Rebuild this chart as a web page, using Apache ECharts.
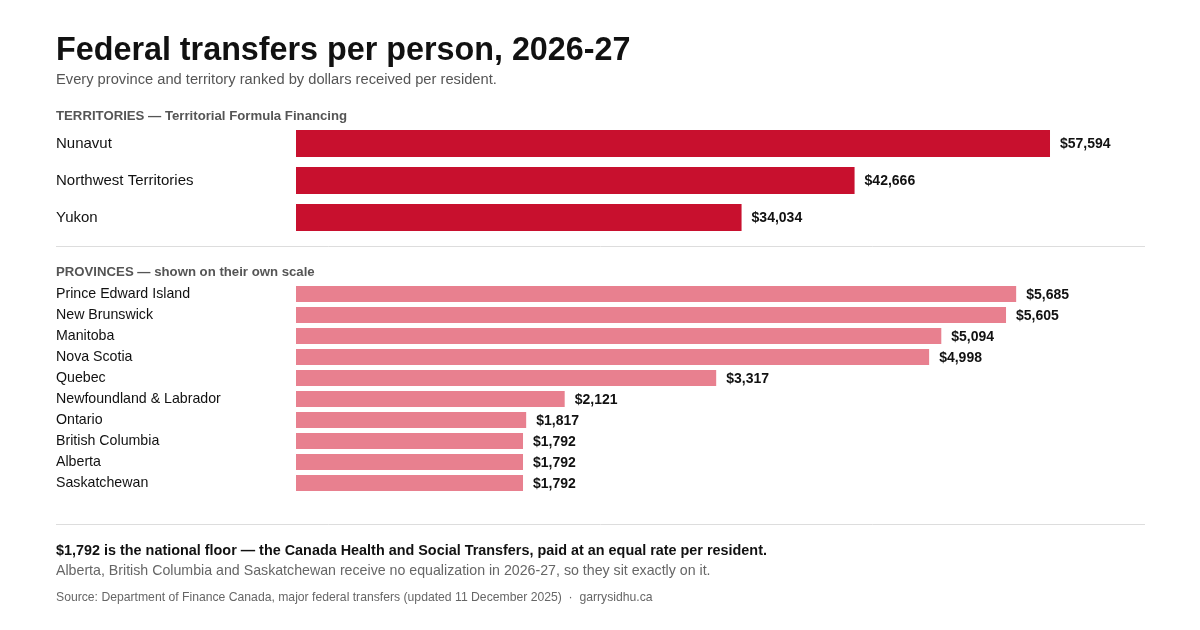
<!DOCTYPE html>
<html>
<head>
<meta charset="utf-8">
<script src="https://cdn.jsdelivr.net/npm/echarts@6/dist/echarts.min.js"></script>
<style>html,body{margin:0;padding:0;background:#fff}#c{width:1200px;height:630px}</style>
</head>
<body>
<div id="c"></div>
<script>
const territoryNames = ['Nunavut', 'Northwest Territories', 'Yukon'];
const territoryValues = [57594, 42666, 34034];
const provinceNames = ['Prince Edward Island', 'New Brunswick', 'Manitoba', 'Nova Scotia', 'Quebec',
  'Newfoundland & Labrador', 'Ontario', 'British Columbia', 'Alberta', 'Saskatchewan'];
const provinceValues = [5685, 5605, 5094, 4998, 3317, 2121, 1817, 1792, 1792, 1792];

const FONT = '"Liberation Sans", Arial, Helvetica, sans-serif';
const chart = echarts.init(document.getElementById('c'), null, {renderer: 'canvas'});
const fmt = p => '$' + p.value.toLocaleString('en-US');
const t = (text, top, size, weight, color) => ({text, left: 56, top, padding: 0,
  textStyle: {fontFamily: FONT, fontSize: size, fontWeight: weight, color}});

chart.setOption({
  backgroundColor: '#ffffff',
  animation: false,
  textStyle: {fontFamily: FONT},
  title: [
    t('Federal transfers per person, 2026-27', 35, 32.3, 'bold', '#111111'),
    t('Every province and territory ranked by dollars received per resident.', 72, 14.7, 'normal', '#555555'),
    t('TERRITORIES — Territorial Formula Financing', 110, 13.2, 'bold', '#555555'),
    t('PROVINCES — shown on their own scale', 266, 13.2, 'bold', '#555555'),
    t('$1,792 is the national floor — the Canada Health and Social Transfers, paid at an equal rate per resident.', 544, 14.4, 'bold', '#111111'),
    t('Alberta, British Columbia and Saskatchewan receive no equalization in 2026-27, so they sit exactly on it.', 564, 14.2, 'normal', '#666666'),
    t('Source: Department of Finance Canada, major federal transfers (updated 11 December 2025)  ·  garrysidhu.ca', 592, 12.2, 'normal', '#666666')
  ],
  graphic: [
    {type: 'line', shape: {x1: 56, y1: 246.5, x2: 1145, y2: 246.5}, style: {stroke: '#dddddd', lineWidth: 1}},
    {type: 'line', shape: {x1: 56, y1: 524.5, x2: 1145, y2: 524.5}, style: {stroke: '#dddddd', lineWidth: 1}}
  ],
  grid: [
    {left: 296, right: 55, top: 125, height: 111},
    {left: 296, right: 55, top: 283.5, height: 210}
  ],
  xAxis: [
    {type: 'value', gridIndex: 0, min: 0, max: 64850, show: false},
    {type: 'value', gridIndex: 1, min: 0, max: 6702, show: false}
  ],
  yAxis: [
    {type: 'category', gridIndex: 0, data: territoryNames, inverse: true,
     axisLine: {show: false}, axisTick: {show: false}, splitLine: {show: false},
     axisLabel: {align: 'left', margin: 240, padding: [2, 0, 0, 0], fontFamily: FONT, fontSize: 15, color: '#111111'}},
    {type: 'category', gridIndex: 1, data: provinceNames, inverse: true,
     axisLine: {show: false}, axisTick: {show: false}, splitLine: {show: false},
     axisLabel: {align: 'left', margin: 240, fontFamily: FONT, fontSize: 14.2, color: '#111111'}}
  ],
  series: [
    {type: 'bar', xAxisIndex: 0, yAxisIndex: 0, data: territoryValues, barWidth: 27,
     itemStyle: {color: '#C8102E'},
     label: {show: true, position: 'right', distance: 10, offset: [0, 1], formatter: fmt,
       fontFamily: FONT, fontSize: 14, fontWeight: 'bold', color: '#111111'}},
    {type: 'bar', xAxisIndex: 1, yAxisIndex: 1, data: provinceValues, barWidth: 16,
     itemStyle: {color: '#E8808F'},
     label: {show: true, position: 'right', distance: 10, offset: [0, 1], formatter: fmt,
       fontFamily: FONT, fontSize: 14, fontWeight: 'bold', color: '#111111'}}
  ]
});
</script>
</body>
</html>
